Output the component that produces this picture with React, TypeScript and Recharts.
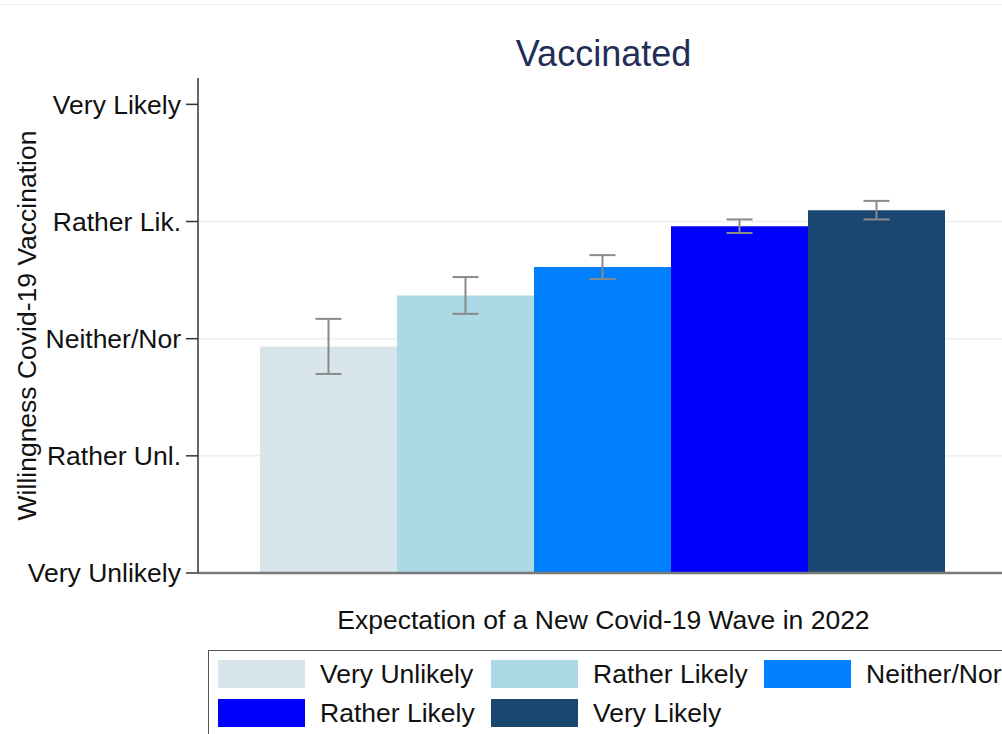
import React from "react";
import {
  BarChart,
  Bar,
  XAxis,
  YAxis,
  CartesianGrid,
  ErrorBar,
  Legend,
} from "recharts";

// groups on the x axis (expectation of a new wave)
const categories = ["Very Unlikely", "Rather Likely", "Neither/Nor", "Rather Likely", "Very Likely"];
const means = [2.934, 3.369, 3.611, 3.96, 4.097];
const ciHalf = [0.235, 0.157, 0.102, 0.058, 0.079];
const colors = ["#d8e5eb", "#add8e6", "#0080ff", "#0000ff", "#1a476f"];

const yTicks = [1, 2, 3, 4, 5];
const yTickLabels = ["Very Unlikely", "Rather Unl.", "Neither/Nor", "Rather Lik.", "Very Likely"];
const gridValues = [2, 3, 4];

const row: Record<string, number | string> = { group: "all" };
means.forEach((m, i) => {
  row[`v${i}`] = m;
  row[`e${i}`] = ciHalf[i];
});
const chartData = [row];

const FONT = "'Liberation Sans', Arial, sans-serif";
const FS = 26.5;

function renderLegend() {
  return (
    <div
      style={{
        border: "1.5px solid #555",
        background: "#fff",
        padding: "9px 0 10px 9px",
        fontFamily: FONT,
        fontSize: FS,
        color: "#111",
        display: "grid",
        gridTemplateColumns: "273px 273px 273px",
        rowGap: 11,
        width: 830,
        boxSizing: "border-box",
      }}
    >
      {categories.map((c, i) => (
        <div key={i} style={{ display: "flex", alignItems: "center", height: 28 }}>
          <div style={{ width: 87, height: 28, background: colors[i], flexShrink: 0 }} />
          <span style={{ marginLeft: 15, whiteSpace: "nowrap", lineHeight: "28px" }}>{c}</span>
        </div>
      ))}
    </div>
  );
}

export default function App() {
  return (
    <div
      style={{
        position: "fixed",
        left: 0,
        top: 0,
        width: 1002,
        height: 734,
        overflow: "hidden",
        background: "#fff",
      }}
    >
      <div style={{ position: "absolute", left: 0, top: 4, width: 1002, height: 1, background: "#eeeeee" }} />
      <div
        style={{
          position: "absolute",
          left: 198,
          width: 811,
          top: 32,
          textAlign: "center",
          fontFamily: FONT,
          fontSize: 36,
          color: "#1f2d57",
          lineHeight: "44px",
        }}
      >
        Vaccinated
      </div>
      <BarChart
        width={1010}
        height={734}
        data={chartData}
        margin={{ top: 78, right: 1, left: 0, bottom: 0 }}
        barCategoryGap={62}
        barGap={0}
      >
        <CartesianGrid vertical={false} horizontalValues={gridValues} stroke="#e8f0f2" strokeWidth={1.5} />
        <XAxis
          dataKey="group"
          tick={false}
          tickLine={false}
          axisLine={{ stroke: "#7a7a7a", strokeWidth: 2.5 }}
          height={161}
          label={{
            content: ({ viewBox }: any) => (
              <text
                x={viewBox.x + viewBox.width / 2}
                y={620}
                textAnchor="middle"
                dominantBaseline="central"
                fontFamily={FONT}
                fontSize={FS}
                fill="#111"
              >
                Expectation of a New Covid-19 Wave in 2022
              </text>
            ),
          }}
        />
        <YAxis
          type="number"
          domain={[1, 5.225]}
          ticks={yTicks}
          allowDataOverflow
          width={198}
          tickSize={12}
          tickMargin={5}
          tickFormatter={(v: number) => yTickLabels[v - 1]}
          tick={{ fontFamily: FONT, fontSize: FS, fill: "#111" }}
          tickLine={{ stroke: "#333", strokeWidth: 1.5 }}
          axisLine={{ stroke: "#333", strokeWidth: 1.5 }}
          label={{
            content: ({ viewBox }: any) => {
              const cy = viewBox.y + viewBox.height / 2;
              return (
                <text
                  x={27}
                  y={cy}
                  transform={`rotate(-90, 27, ${cy})`}
                  textAnchor="middle"
                  dominantBaseline="central"
                  fontFamily={FONT}
                  fontSize={FS}
                  fill="#111"
                >
                  Willingness Covid-19 Vaccination
                </text>
              );
            },
          }}
        />
        <Legend
          layout="horizontal"
          verticalAlign="middle"
          align="center"
          content={renderLegend}
          wrapperStyle={{ position: "absolute", left: 208, top: 650, width: 830 }}
        />
        {categories.map((c, i) => (
          <Bar key={i} dataKey={`v${i}`} name={c} fill={colors[i]} isAnimationActive={false}>
            <ErrorBar dataKey={`e${i}`} width={13} strokeWidth={2} stroke="#8a8a8a" direction="y" />
          </Bar>
        ))}
      </BarChart>
    </div>
  );
}
